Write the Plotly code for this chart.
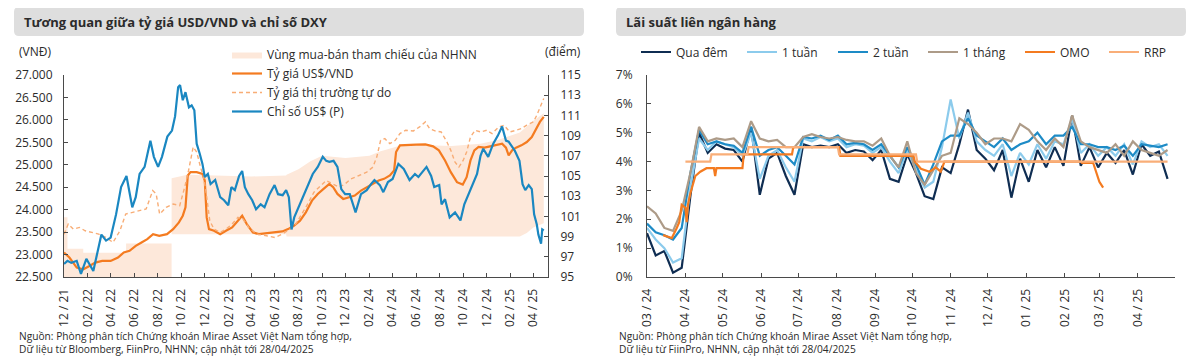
import plotly.graph_objects as go

# The page body has an 8px margin, so the figure is drawn 8px in from the top-left corner.
OFF = 8
W, H = 1200 - OFF, 357 - OFF


def px(x):
    return (x - OFF) / W


def py(y):
    return 1 - (y - OFF) / H


# ---------------- Left chart data ----------------
band_dates = ["2021-12-01", "2021-12-10", "2021-12-10", "2022-01-20", "2022-01-20", "2022-05-11",
              "2022-05-11", "2022-09-06", "2022-09-06", "2022-10-17", "2023-04-01", "2023-06-30",
              "2023-07-01", "2023-08-01", "2023-09-01", "2023-10-01", "2023-12-01", "2024-02-01",
              "2024-03-01", "2024-04-01", "2024-05-01", "2024-09-01", "2024-11-15", "2025-01-01",
              "2025-02-01", "2025-02-25", "2025-03-15", "2025-04-01", "2025-04-28"]
band_lower = [22000, 22000, 22000, 22000, 22000, 22000, 22000, 22000, 23450, 23450, 23450, 23450,
              23400, 23400, 23400, 23400, 23400, 23400, 23400, 23400, 23400, 23400, 23400, 23400,
              23400, 23400, 23480, 23600, 23700]
band_upper = [23830, 23830, 23130, 23130, 23040, 23040, 23245, 23245, 24700, 24780, 24740, 24760,
              24780, 24900, 25080, 25200, 25150, 25200, 25300, 25380, 25450, 25420, 25470, 25560,
              25650, 25720, 25850, 25980, 26150]

vnd_dates = ["2021-12-01", "2021-12-15", "2022-01-03", "2022-01-20", "2022-02-05", "2022-02-20",
             "2022-03-10", "2022-04-01", "2022-04-20", "2022-05-05", "2022-05-20", "2022-06-05",
             "2022-06-20", "2022-07-05", "2022-07-20", "2022-08-05", "2022-08-25", "2022-09-10",
             "2022-09-25", "2022-10-05", "2022-10-12", "2022-10-18", "2022-10-25", "2022-11-10",
             "2022-11-25", "2022-12-01", "2022-12-06", "2022-12-12", "2022-12-25", "2023-01-10",
             "2023-01-25", "2023-02-10", "2023-02-25", "2023-03-08", "2023-03-20", "2023-04-05",
             "2023-04-20", "2023-05-10", "2023-06-01", "2023-06-20", "2023-07-05", "2023-07-20",
             "2023-08-05", "2023-08-20", "2023-09-05", "2023-09-20", "2023-10-05", "2023-10-20",
             "2023-10-30", "2023-11-10", "2023-11-25", "2023-12-10", "2023-12-25", "2024-01-10",
             "2024-01-25", "2024-02-10", "2024-02-25", "2024-03-10", "2024-03-25", "2024-04-05",
             "2024-04-10", "2024-04-20", "2024-05-10", "2024-06-01", "2024-06-25", "2024-07-15",
             "2024-07-30", "2024-08-15", "2024-08-30", "2024-09-15", "2024-09-30", "2024-10-10",
             "2024-10-20", "2024-10-30", "2024-11-10", "2024-11-25", "2024-12-10", "2024-12-25",
             "2025-01-10", "2025-01-20", "2025-01-27", "2025-02-05", "2025-02-15", "2025-03-01",
             "2025-03-15", "2025-03-28", "2025-04-08", "2025-04-18", "2025-04-28"]
vnd_official = [23045, 22933, 22709, 22672, 22746, 22821, 22858, 22858, 22933, 23045, 23082, 23194,
                23269, 23343, 23455, 23418, 23455, 23567, 23716, 23866, 24052, 24761, 24836, 24836,
                24798, 24649, 23828, 23567, 23530, 23455, 23530, 23604, 23754, 23866, 23679, 23493,
                23455, 23470, 23493, 23515, 23567, 23642, 23754, 23940, 24201, 24351, 24463, 24575,
                24500, 24351, 24239, 24276, 24313, 24425, 24500, 24575, 24649, 24687, 24761, 24873,
                25284, 25433, 25433, 25448, 25455, 25410, 25321, 25097, 24836, 24612, 24560, 24724,
                25097, 25321, 25396, 25381, 25410, 25433, 25470, 25381, 25209, 25321, 25381, 25433,
                25507, 25619, 25806, 25955, 26067]

free_dates = ["2021-12-01", "2021-12-12", "2021-12-25", "2022-01-10", "2022-01-25", "2022-02-10",
              "2022-03-01", "2022-03-20", "2022-04-07", "2022-04-25", "2022-05-10", "2022-05-28",
              "2022-06-15", "2022-07-02", "2022-07-19", "2022-07-28", "2022-08-06", "2022-08-23",
              "2022-09-10", "2022-09-27", "2022-10-10", "2022-10-20", "2022-11-01", "2022-11-10",
              "2022-11-20", "2022-11-28", "2022-12-05", "2022-12-14", "2022-12-25", "2023-01-10",
              "2023-01-25", "2023-02-10", "2023-02-25", "2023-03-10", "2023-03-25", "2023-04-15",
              "2023-05-10", "2023-06-01", "2023-06-20", "2023-07-10", "2023-07-25", "2023-08-10",
              "2023-08-25", "2023-09-10", "2023-09-25", "2023-10-12", "2023-10-28", "2023-11-15",
              "2023-11-30", "2023-12-15", "2024-01-05", "2024-01-25", "2024-02-10", "2024-02-20",
              "2024-03-01", "2024-03-12", "2024-03-25", "2024-04-08", "2024-04-20", "2024-05-05",
              "2024-05-25", "2024-06-10", "2024-06-25", "2024-07-06", "2024-07-20", "2024-08-05",
              "2024-08-20", "2024-08-30", "2024-09-10", "2024-09-20", "2024-10-01", "2024-10-10",
              "2024-10-20", "2024-11-01", "2024-11-15", "2024-12-01", "2024-12-15", "2025-01-01",
              "2025-01-15", "2025-01-30", "2025-02-15", "2025-03-01", "2025-03-15", "2025-04-01",
              "2025-04-10", "2025-04-18", "2025-04-28"]
vnd_free = [23455, 23679, 23567, 23604, 23530, 23493, 23455, 23380, 23269, 23530, 23903, 23940,
            23977, 24015, 24425, 24351, 23903, 24052, 24127, 24090, 24500, 24873, 25396, 25284,
            24948, 24724, 24351, 23754, 23567, 23493, 23567, 23679, 23828, 23791, 23604, 23455,
            23418, 23380, 23455, 23567, 23679, 23903, 24127, 24388, 24500, 24649, 24575, 24500,
            24575, 24687, 24761, 24836, 24948, 25172, 25545, 25582, 25470, 25545, 25694, 25769,
            25754, 25843, 25955, 25806, 25754, 25731, 25507, 25321, 25060, 24948, 25097, 25284,
            25619, 25769, 25731, 25769, 25694, 25843, 25881, 25731, 25769, 25806, 25881, 25955,
            26104, 26291, 26478]

dxy_dates = ["2021-12-01", "2021-12-10", "2021-12-20", "2022-01-03", "2022-01-14", "2022-01-28",
             "2022-02-15", "2022-03-01", "2022-03-08", "2022-03-20", "2022-04-01", "2022-04-15",
             "2022-04-28", "2022-05-12", "2022-05-27", "2022-06-05", "2022-06-15", "2022-06-28",
             "2022-07-13", "2022-07-22", "2022-08-02", "2022-08-12", "2022-08-26", "2022-09-07",
             "2022-09-15", "2022-09-23", "2022-09-28", "2022-10-05", "2022-10-12", "2022-10-21",
             "2022-10-28", "2022-11-04", "2022-11-10", "2022-11-18", "2022-11-25", "2022-12-01",
             "2022-12-09", "2022-12-16", "2022-12-28", "2023-01-10", "2023-01-20", "2023-01-31",
             "2023-02-08", "2023-02-17", "2023-02-28", "2023-03-08", "2023-03-15", "2023-03-24",
             "2023-04-03", "2023-04-13", "2023-04-25", "2023-05-05", "2023-05-18", "2023-05-31",
             "2023-06-09", "2023-06-21", "2023-06-30", "2023-07-07", "2023-07-14", "2023-07-21",
             "2023-08-01", "2023-08-11", "2023-08-25", "2023-09-07", "2023-09-20", "2023-10-03",
             "2023-10-12", "2023-10-20", "2023-10-31", "2023-11-10", "2023-11-20", "2023-11-30",
             "2023-12-12", "2023-12-27", "2024-01-10", "2024-01-25", "2024-02-05", "2024-02-14",
             "2024-02-28", "2024-03-08", "2024-03-20", "2024-04-01", "2024-04-16", "2024-04-30",
             "2024-05-15", "2024-05-29", "2024-06-07", "2024-06-20", "2024-06-28", "2024-07-10",
             "2024-07-18", "2024-07-31", "2024-08-06", "2024-08-15", "2024-08-27", "2024-09-10",
             "2024-09-24", "2024-10-04", "2024-10-15", "2024-10-25", "2024-11-06", "2024-11-15",
             "2024-11-22", "2024-12-05", "2024-12-18", "2024-12-30", "2025-01-10", "2025-01-20",
             "2025-01-27", "2025-02-03", "2025-02-12", "2025-02-24", "2025-03-04", "2025-03-11",
             "2025-03-20", "2025-03-28", "2025-04-03", "2025-04-10", "2025-04-14", "2025-04-21",
             "2025-04-24", "2025-04-28"]
dxy_values = [96.3, 96.6, 96.4, 96.6, 95.3, 96.8, 95.6, 97.9, 99.2, 98.6, 98.9, 101.2,
              103.9, 105.0, 101.9, 102.9, 105.2, 105.9, 108.5, 106.9, 105.9, 106.9, 108.9, 109.5,
              110.9, 113.8, 114.0, 112.5, 113.3, 111.8, 112.0, 111.5, 108.2, 107.2, 106.2, 104.9,
              105.2, 104.2, 104.6, 102.9, 102.6, 102.1, 103.9, 103.6, 105.0, 105.5, 103.9, 103.2,
              102.6, 101.7, 102.2, 101.9, 103.2, 104.1, 103.2, 103.1, 103.6, 102.9, 99.7, 100.9,
              101.9, 102.9, 104.2, 105.2, 105.9, 106.9, 106.5, 106.4, 106.5, 105.9, 103.7, 103.2,
              103.2, 101.4, 103.2, 103.6, 104.2, 104.6, 104.1, 103.4, 104.4, 104.7, 106.2, 105.7,
              104.6, 105.2, 104.9, 105.5, 105.9, 105.0, 103.9, 104.1, 102.2, 102.7, 100.9, 101.4,
              100.6, 102.2, 103.2, 104.1, 105.2, 107.0, 107.7, 106.9, 108.2, 109.0, 109.9, 108.5,
              108.4, 108.0, 107.5, 106.5, 104.2, 103.6, 104.1, 103.7, 101.2, 100.2, 99.2, 98.3,
              99.7, 99.6]

left_tick_dates = ["2021-12-01", "2022-02-01", "2022-04-01", "2022-06-01", "2022-08-01", "2022-10-01",
                   "2022-12-01", "2023-02-01", "2023-04-01", "2023-06-01", "2023-08-01", "2023-10-01",
                   "2023-12-01", "2024-02-01", "2024-04-01", "2024-06-01", "2024-08-01", "2024-10-01",
                   "2024-12-01", "2025-02-01", "2025-04-01"]
left_tick_labels = ["12 / 21", "02 / 22", "04 / 22", "06 / 22", "08 / 22", "10 / 22", "12 / 22",
                    "02 / 23", "04 / 23", "06 / 23", "08 / 23", "10 / 23", "12 / 23", "02 / 24",
                    "04 / 24", "06 / 24", "08 / 24", "10 / 24", "12 / 24", "02 / 25", "04 / 25"]

# ---------------- Right chart data ----------------
week_dates = ["2024-03-01", "2024-03-08", "2024-03-15", "2024-03-22", "2024-03-29", "2024-04-05",
              "2024-04-12", "2024-04-19", "2024-04-26", "2024-05-03", "2024-05-10", "2024-05-17",
              "2024-05-24", "2024-05-31", "2024-06-07", "2024-06-14", "2024-06-21", "2024-06-28",
              "2024-07-05", "2024-07-12", "2024-07-19", "2024-07-26", "2024-08-02", "2024-08-09",
              "2024-08-16", "2024-08-23", "2024-08-30", "2024-09-06", "2024-09-13", "2024-09-20",
              "2024-09-27", "2024-10-04", "2024-10-11", "2024-10-18", "2024-10-25", "2024-11-01",
              "2024-11-08", "2024-11-15", "2024-11-22", "2024-11-29", "2024-12-06", "2024-12-13",
              "2024-12-20", "2024-12-27", "2025-01-03", "2025-01-10", "2025-01-17", "2025-01-24",
              "2025-01-31", "2025-02-07", "2025-02-14", "2025-02-21", "2025-02-28", "2025-03-07",
              "2025-03-14", "2025-03-21", "2025-03-28", "2025-04-04", "2025-04-11", "2025-04-18",
              "2025-04-25"]
rate_overnight = [1.52, 0.75, 0.9, 0.15, 0.32, 2.8, 5.0, 4.3, 4.6, 4.45, 4.4, 4.0,
                  5.2, 2.85, 4.1, 4.3, 3.5, 2.85, 4.6, 4.5, 4.55, 4.5, 4.6, 4.3,
                  4.4, 4.35, 4.05, 4.4, 3.4, 3.3, 4.25, 3.6, 2.8, 2.7, 3.8, 3.6,
                  4.6, 5.8, 4.4, 4.1, 3.7, 4.4, 2.75, 4.1, 3.3, 4.4, 3.8, 4.5,
                  3.85, 5.6, 3.85, 4.5, 3.8, 4.3, 3.95, 4.4, 3.55, 4.6, 4.2, 4.35,
                  3.4]
rate_1w = [1.7, 1.3, 1.0, 0.5, 0.65, 3.1, 4.8, 4.4, 4.7, 4.6, 4.5, 4.2,
           5.0, 3.4, 4.2, 4.4, 3.8, 3.3, 4.8, 4.7, 4.85, 4.7, 4.8, 4.5,
           4.6, 4.55, 4.3, 4.5, 4.0, 3.6, 4.4, 3.7, 3.1, 3.3, 4.5, 6.15,
           4.8, 5.7, 4.7, 4.4, 4.2, 4.6, 3.5, 4.3, 3.9, 4.6, 4.1, 4.7,
           4.6, 5.5, 4.3, 4.6, 4.2, 4.5, 4.2, 4.6, 3.9, 4.7, 4.5, 4.6,
           4.2]
rate_2w = [1.85, 1.55, 1.45, 1.3, 1.7, 3.6, 5.1, 4.6, 4.7, 4.6, 4.55, 4.3,
           5.2, 4.2, 4.4, 4.5, 4.2, 3.9, 4.85, 4.8, 4.9, 4.75, 4.9, 4.6,
           4.65, 4.6, 4.4, 4.6, 4.2, 3.8, 4.5, 3.9, 3.2, 3.9, 4.7, 4.9,
           4.9, 5.5, 4.9, 4.7, 4.5, 4.8, 4.4, 4.6, 4.7, 5.0, 4.6, 4.9,
           4.9, 5.2, 4.6, 4.6, 4.5, 4.5, 4.4, 4.55, 4.2, 4.6, 4.55, 4.5,
           4.6]
rate_1m = [2.45, 2.2, 1.7, 1.6, 2.3, 3.6, 5.2, 4.7, 4.8, 4.75, 4.8, 4.5,
           5.4, 4.8, 4.7, 4.75, 4.5, 4.5, 4.85, 4.95, 4.85, 4.8, 4.85, 4.75,
           4.7, 4.7, 4.55, 4.8, 4.2, 3.8, 4.7, 3.6, 3.2, 3.7, 4.2, 4.3,
           5.5, 5.3, 5.0, 4.6, 4.8, 4.8, 4.7, 5.3, 5.1, 4.7, 4.4, 4.8,
           4.5, 5.6, 4.7, 4.5, 4.4, 4.3, 4.6, 4.2, 4.7, 4.4, 4.3, 4.2,
           4.4]

omo_dates = ["2024-03-14", "2024-03-21", "2024-03-25", "2024-03-27", "2024-03-29", "2024-04-01",
             "2024-04-02", "2024-04-03", "2024-04-05", "2024-04-09", "2024-04-13", "2024-04-18",
             "2024-04-24", "2024-04-25", "2024-04-26", "2024-05-17", "2024-05-18", "2024-06-26",
             "2024-06-27", "2024-08-03", "2024-08-04", "2024-10-02", "2024-10-03", "2024-10-08",
             "2024-10-15", "2024-10-20", "2024-10-24", "2024-10-27", "2025-02-14", "2025-02-15",
             "2025-02-24", "2025-02-27", "2025-03-01", "2025-03-04"]
omo_rate = [1.45, 1.35, 1.7, 1.9, 2.5, 2.4, 1.9, 2.5, 2.9, 3.5, 3.65, 3.77,
            3.77, 3.5, 3.77, 3.77, 4.25, 4.25, 4.5, 4.5, 4.2, 4.2, 4.0, 3.75,
            3.65, 3.8, 3.65, 4.0, 4.0, 3.95, 3.95, 3.6, 3.3, 3.1]

rrp_dates = ["2024-04-01", "2024-04-21", "2024-04-22", "2024-05-21", "2024-05-22", "2024-08-02",
             "2024-08-03", "2024-10-04", "2024-10-05", "2025-04-25"]
rrp_rate = [4.0, 4.0, 4.25, 4.25, 4.5, 4.5, 4.25, 4.25, 4.0, 4.0]

right_tick_dates = ["2024-03-01", "2024-04-01", "2024-05-01", "2024-06-01", "2024-07-01", "2024-08-01",
                    "2024-09-01", "2024-10-01", "2024-11-01", "2024-12-01", "2025-01-01", "2025-02-01",
                    "2025-03-01", "2025-04-01", "2025-05-01"]
right_tick_labels = ["03 / 24", "04 / 24", "05 / 24", "06 / 24", "07 / 24", "08 / 24", "09 / 24",
                     "10 / 24", "11 / 24", "12 / 24", "01 / 25", "02 / 25", "03 / 25", "04 / 25", ""]

# ---------------- Styles ----------------
FONT = "Open Sans, Noto Sans, DejaVu Sans, sans-serif"
TXT = "#2b2b2b"
AX = "#4a4a4a"
C_BAND = "#fde8da"
C_VND = "#f47b20"
C_FREE = "#f8ad76"
C_DXY = "#1a87c1"
C_NAVY = "#0f2d52"
C_LB = "#8ccbec"
C_MB = "#1d8bc6"
C_TAN = "#ad9b88"
C_OMO = "#f47b20"
C_RRP = "#f9ae78"

fig = go.Figure()

# Left chart traces
fig.add_trace(go.Scatter(x=band_dates, y=band_lower, mode="lines", line=dict(width=0, color=C_BAND),
                         showlegend=False, hoverinfo="skip", xaxis="x", yaxis="y"))
fig.add_trace(go.Scatter(x=band_dates, y=band_upper, mode="lines", line=dict(width=0, color=C_BAND),
                         fill="tonexty", fillcolor=C_BAND, name="Vùng mua-bán tham chiếu của NHNN",
                         xaxis="x", yaxis="y", legend="legend"))
fig.add_trace(go.Scatter(x=vnd_dates, y=vnd_official, mode="lines", line=dict(width=2.2, color=C_VND),
                         name="Tỷ giá US$/VND", xaxis="x", yaxis="y", legend="legend"))
fig.add_trace(go.Scatter(x=free_dates, y=vnd_free, mode="lines",
                         line=dict(width=1.4, color=C_FREE, dash="4px,3px"),
                         name="Tỷ giá thị trường tự do", xaxis="x", yaxis="y", legend="legend"))
fig.add_trace(go.Scatter(x=dxy_dates, y=dxy_values, mode="lines", line=dict(width=2.2, color=C_DXY),
                         name="Chỉ số US$ (P)", xaxis="x", yaxis="y2", legend="legend"))

# Right chart traces
right_series = [
    ("Qua đêm", week_dates, rate_overnight, C_NAVY, 641),
    ("1 tuần", week_dates, rate_1w, C_LB, 747),
    ("2 tuần", week_dates, rate_2w, C_MB, 838),
    ("1 tháng", week_dates, rate_1m, C_TAN, 928),
    ("OMO", omo_dates, omo_rate, C_OMO, 1025),
    ("RRP", rrp_dates, rrp_rate, C_RRP, 1109),
]
legend_layouts = {}
for i, (name, xs, ys, col, lx) in enumerate(right_series):
    lg = "legend%d" % (i + 2)
    fig.add_trace(go.Scatter(x=xs, y=ys, mode="lines", line=dict(width=2.2, color=col),
                             name=name, xaxis="x2", yaxis="y3", legend=lg))
    legend_layouts[lg] = dict(x=px(lx - 5), y=py(52), xanchor="left", yanchor="middle",
                              orientation="h", itemwidth=30, bgcolor="rgba(0,0,0,0)",
                              font=dict(family=FONT, size=12, color=TXT))

dom_y = [py(277), py(75)]
axis_common = dict(showgrid=False, zeroline=False, showline=True, linecolor=AX, linewidth=1,
                   ticks="inside", ticklen=4, tickcolor=AX,
                   tickfont=dict(family=FONT, size=12, color=TXT))


# rounded title bars
def rrect(x0, y0, x1, y1, r):
    return (f"M {px(x0 + r)},{py(y0)} L {px(x1 - r)},{py(y0)} Q {px(x1)},{py(y0)} {px(x1)},{py(y0 + r)} "
            f"L {px(x1)},{py(y1 - r)} Q {px(x1)},{py(y1)} {px(x1 - r)},{py(y1)} "
            f"L {px(x0 + r)},{py(y1)} Q {px(x0)},{py(y1)} {px(x0)},{py(y1 - r)} "
            f"L {px(x0)},{py(y0 + r)} Q {px(x0)},{py(y0)} {px(x0 + r)},{py(y0)} Z")


shapes = [
    dict(type="path", xref="paper", yref="paper", path=rrect(14, 7, 584, 36, 5),
         fillcolor="#dedede", line=dict(width=0), layer="below"),
    dict(type="path", xref="paper", yref="paper", path=rrect(616, 7, 1186, 36, 5),
         fillcolor="#dedede", line=dict(width=0), layer="below"),
]


def note(text, x, y, size=12, anchor="left", bold=False):
    return dict(text=("<b>%s</b>" % text) if bold else text, x=px(x), y=py(y), xref="paper", yref="paper",
                xanchor=anchor, yanchor="middle", showarrow=False,
                font=dict(family=FONT, size=size, color=TXT))


annotations = [
    note("Tương quan giữa tỷ giá USD/VND và chỉ số DXY", 22, 21.5, size=13, bold=True),
    note("Lãi suất liên ngân hàng", 624, 21.5, size=13, bold=True),
    note("(VNĐ)", 17, 52),
    note("(điểm)", 583, 52, anchor="right"),
    note("Nguồn: Phòng phân tích Chứng khoán Mirae Asset Việt Nam tổng hợp,", 17, 336, size=10.2),
    note("Dữ liệu từ Bloomberg, FiinPro, NHNN; cập nhật tới 28/04/2025", 17, 348.5, size=10.2),
    note("Nguồn: Phòng phân tích Chứng khoán Mirae Asset Việt Nam tổng hợp,", 617, 336, size=10.2),
    note("Dữ liệu từ FiinPro, NHNN, cập nhật tới 28/04/2025", 617, 348.5, size=10.2),
]

layout = dict(
    width=W, height=H, margin=dict(l=0, r=0, t=0, b=0), template="none",
    paper_bgcolor="white", plot_bgcolor="white", separators=",.",
    font=dict(family=FONT, size=12, color=TXT),
    xaxis=dict(domain=[px(64), px(548)], anchor="y", type="date",
               range=["2021-12-01", "2025-05-09"], tickvals=left_tick_dates, ticktext=left_tick_labels,
               tickangle=-90, ticklabelstandoff=6, **axis_common),
    yaxis=dict(domain=dom_y, anchor="x", range=[22500, 27000], dtick=500, tickformat=",.0f",
               ticklabelstandoff=8, **axis_common),
    yaxis2=dict(overlaying="y", side="right", anchor="x", range=[95, 115], tick0=95, dtick=2,
                ticklabelstandoff=9, **axis_common),
    xaxis2=dict(domain=[px(647), px(1175)], anchor="y3", type="date",
                range=["2024-03-01", "2025-05-01"], tickvals=right_tick_dates, ticktext=right_tick_labels,
                tickangle=-90, ticklabelstandoff=6, **axis_common),
    yaxis3=dict(domain=dom_y, anchor="x2", range=[0, 7], dtick=1, ticksuffix="%",
                ticklabelstandoff=11, **axis_common),
    legend=dict(x=px(227), y=py(40), xanchor="left", yanchor="top", itemwidth=30,
                traceorder="normal", bgcolor="rgba(0,0,0,0)", tracegroupgap=0,
                font=dict(family=FONT, size=12, color=TXT)),
    shapes=shapes, annotations=annotations, showlegend=True,
)
layout.update(legend_layouts)
fig.update_layout(**layout)

fig.write_html("out.html")
